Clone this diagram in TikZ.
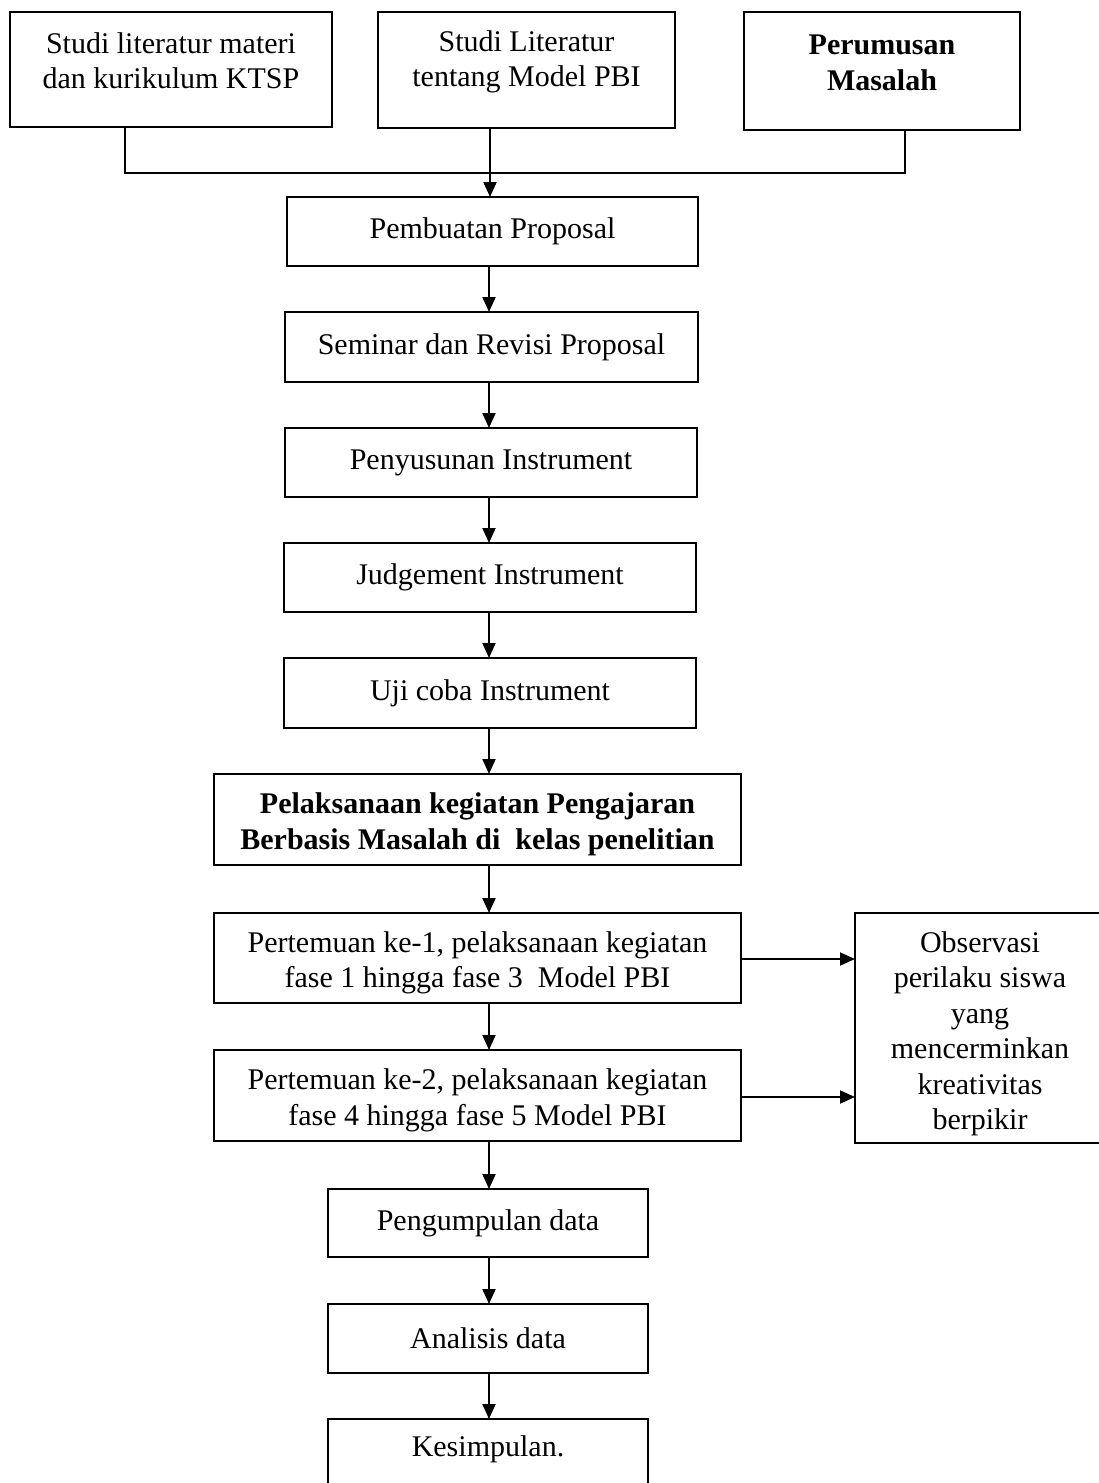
\documentclass[tikz,border=0pt]{standalone}
\usepackage{fontspec}
\setmainfont{Liberation Serif}
\usetikzlibrary{arrows.meta}
\tikzset{
  box/.style={draw=black, line width=2pt, rectangle, anchor=north west, inner sep=0pt, outer sep=0pt, align=center, font=\fontsize{30}{35.5}\selectfont},
  lbl/.style={align=center, font=\fontsize{30}{35.5}\selectfont},
  conn/.style={line width=2pt},
  arr/.style={line width=2pt, -{Triangle[length=15pt, width=13pt]}}
}
\begin{document}
\begin{tikzpicture}[x=1pt, y=-1pt]
\useasboundingbox (0,0) rectangle (1099,1483);
\clip (0,0) rectangle (1099,1483);
\fill[white] (0,0) rectangle (1099,1483);
% top boxes
\node[box, minimum width=322pt, minimum height=115pt, label={[lbl, yshift=9pt]center:Studi literatur materi\\dan kurikulum KTSP}] (b1) at (10,12) {};
\node[box, minimum width=297pt, minimum height=116pt, label={[lbl, yshift=8pt]center:Studi Literatur\\tentang Model PBI}] (b2) at (378,12) {};
\node[box, minimum width=276pt, minimum height=118pt, label={[lbl, yshift=8pt]center:\textbf{Perumusan}\\\textbf{Masalah}}] (b3) at (744,12) {};
% main column
\node[box, minimum width=411pt, minimum height=69pt] (p1) at (287,197) {Pembuatan Proposal};
\node[box, minimum width=413pt, minimum height=70pt] (p2) at (285,312) {Seminar dan Revisi Proposal};
\node[box, minimum width=412pt, minimum height=69pt] (p3) at (285,428) {Penyusunan Instrument};
\node[box, minimum width=412pt, minimum height=69pt] (p4) at (284,543) {Judgement Instrument};
\node[box, minimum width=412pt, minimum height=70pt] (p5) at (284,658) {Uji coba Instrument};
\node[box, minimum width=527pt, minimum height=91pt, label={[lbl, yshift=-5pt]center:\textbf{Pelaksanaan kegiatan Pengajaran}\\\textbf{Berbasis Masalah di\ \ kelas penelitian}}] (p6) at (214,774) {};
\node[box, minimum width=527pt, minimum height=90pt, label={[lbl, yshift=-5pt]center:Pertemuan ke-1, pelaksanaan kegiatan\\fase 1 hingga fase 3\ \ Model PBI}] (p7) at (214,913) {};
\node[box, minimum width=527pt, minimum height=91pt, label={[lbl, yshift=-5pt]center:Pertemuan ke-2, pelaksanaan kegiatan\\fase 4 hingga fase 5 Model PBI}] (p8) at (214,1050) {};
\node[box, minimum width=250pt, minimum height=230pt, label={[lbl, yshift=-6pt]center:Observasi\\perilaku siswa\\yang\\mencerminkan\\kreativitas\\berpikir}] (obs) at (855,913) {};
\node[box, minimum width=320pt, minimum height=68pt] (p9) at (328,1189) {Pengumpulan data};
\node[box, minimum width=320pt, minimum height=69pt] (p10) at (328,1304) {Analisis data};
\node[box, minimum width=320pt, minimum height=72pt] (p11) at (328,1419) {};
\node[lbl] (p11t) at (488,1449) {Kesimpulan.};
% connectors
\coordinate (jl) at (125,173);
\coordinate (jr) at (905,173);
\coordinate (jm) at (490,173);
\coordinate (ax) at (489,0);
\draw[conn] (jl |- b1.south) -- (jl) -- (jr) -- (jr |- b3.south);
\draw[arr] (jm |- b2.south) -- (jm |- p1.north);
\draw[arr] (ax |- p1.south) -- (ax |- p2.north);
\draw[arr] (ax |- p2.south) -- (ax |- p3.north);
\draw[arr] (ax |- p3.south) -- (ax |- p4.north);
\draw[arr] (ax |- p4.south) -- (ax |- p5.north);
\draw[arr] (ax |- p5.south) -- (ax |- p6.north);
\draw[arr] (ax |- p6.south) -- (ax |- p7.north);
\draw[arr] (ax |- p7.south) -- (ax |- p8.north);
\draw[arr] (ax |- p8.south) -- (ax |- p9.north);
\draw[arr] (ax |- p9.south) -- (ax |- p10.north);
\draw[arr] (ax |- p10.south) -- (ax |- p11.north);
\coordinate (a1) at (0,959);
\coordinate (a2) at (0,1097);
\draw[arr] (p7.east |- a1) -- (obs.west |- a1);
\draw[arr] (p8.east |- a2) -- (obs.west |- a2);
\end{tikzpicture}
\end{document}
